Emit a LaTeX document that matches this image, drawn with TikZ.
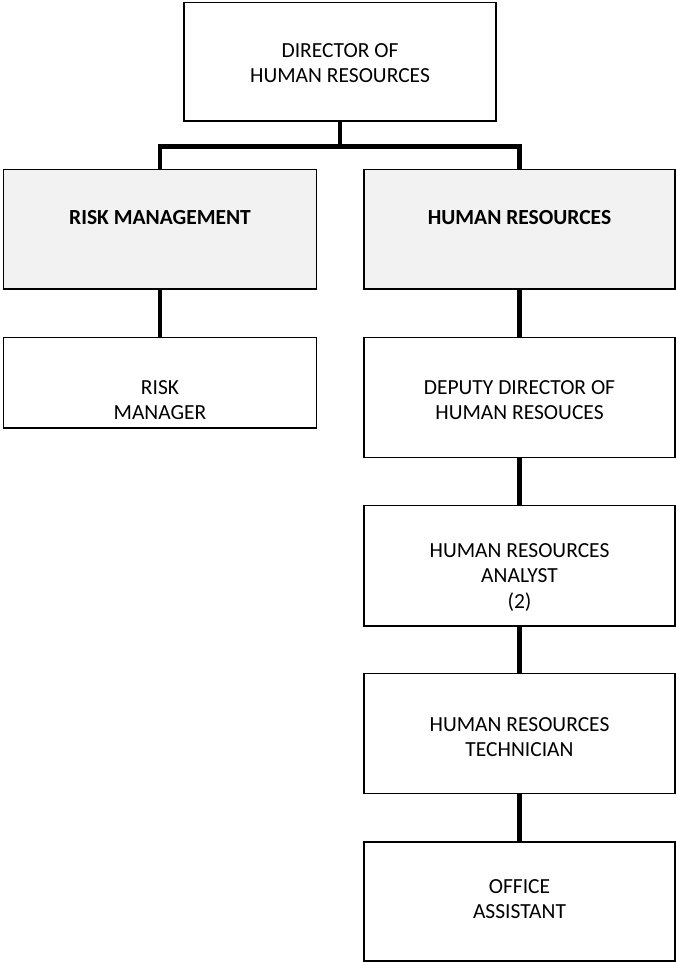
\documentclass[tikz,border=0pt]{standalone}
\usepackage{fontspec}
\setmainfont{Carlito}
\definecolor{deptgrey}{HTML}{F2F2F2}
\begin{document}
\begin{tikzpicture}[x=1pt,y=-1pt,
  box/.style={draw=black, line width=1.8pt, inner sep=0pt},
  unit/.style={box, fill=white},
  dept/.style={box, fill=deptgrey},
  lbl/.style={anchor=north, inner sep=0pt, align=center, text=black,
              font=\fontsize{21.5}{25.5}\selectfont},
  link/.style={draw=black, line width=4.5pt}]
\useasboundingbox (0,0) rectangle (676,962);

% boxes
\node[unit, minimum width=312pt, minimum height=118.5pt] (dir)   at (340,61.75) {};
\node[dept, minimum width=313pt, minimum height=119.5pt] (risk)  at (160,229.25) {};
\node[dept, minimum width=311pt, minimum height=119.5pt] (hr)    at (519.5,229.25) {};
\node[unit, minimum width=313pt, minimum height=90.5pt]  (rmgr)  at (160,382.75) {};
\node[unit, minimum width=311pt, minimum height=120pt]   (dep)   at (519.5,397.5) {};
\node[unit, minimum width=311pt, minimum height=120.5pt] (ana)   at (519.5,565.75) {};
\node[unit, minimum width=311pt, minimum height=120pt]   (tech)  at (519.5,733.5) {};
\node[unit, minimum width=311pt, minimum height=119pt]   (off)   at (519.5,901.5) {};

% labels
\node[lbl] (dir-t)  at (340,43.3)   {DIRECTOR OF\\HUMAN RESOURCES};
\node[lbl, font=\fontsize{21.5}{25.5}\selectfont\bfseries] (risk-t) at (160,210) {RISK MANAGEMENT};
\node[lbl, font=\fontsize{21.5}{25.5}\selectfont\bfseries] (hr-t)   at (519.5,210) {HUMAN RESOURCES};
\node[lbl] (rmgr-t) at (160,380)    {RISK\\MANAGER};
\node[lbl] (dep-t)  at (519.5,380)  {DEPUTY DIRECTOR OF\\HUMAN RESOUCES};
\node[lbl] (ana-t)  at (519.5,543.3) {HUMAN RESOURCES\\ANALYST\\(2)};
\node[lbl] (tech-t) at (519.5,717.3) {HUMAN RESOURCES\\TECHNICIAN};
\node[lbl] (off-t)  at (519.5,879)  {OFFICE\\ASSISTANT};

% connectors
\coordinate (bus) at (340,146.5);
\draw[link] (dir.south) -- (bus);
\draw[link, line join=miter] (risk.north) |- (bus) -| (hr.north);
\draw[link] (risk.south) -- (rmgr.north);
\draw[link] (hr.south) -- (dep.north);
\draw[link] (dep.south) -- (ana.north);
\draw[link] (ana.south) -- (tech.north);
\draw[link] (tech.south) -- (off.north);
\end{tikzpicture}
\end{document}
